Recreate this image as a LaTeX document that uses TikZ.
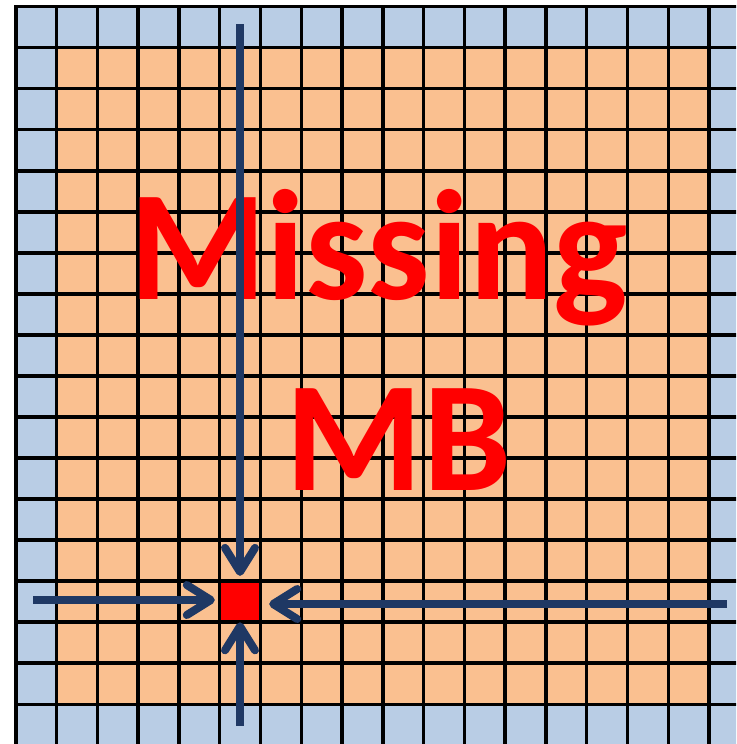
\documentclass[tikz,border=0pt]{standalone}
\usepackage{fontspec}
\setmainfont{Carlito}
\usetikzlibrary{arrows.meta}
\definecolor{cellblue}{HTML}{B9CDE5}
\definecolor{cellorange}{HTML}{FAC090}
\definecolor{arrownavy}{HTML}{1F3864}
\begin{document}
\begin{tikzpicture}[x=1pt,y=-1pt,
  gridline/.style={line width=3.4pt,black,line cap=rect},
  flow/.style={line width=8pt,arrownavy,-{Straight Barb[length=24pt,width=30pt,line cap=round,line join=round]}},
  bigtext/.style={text=red,font=\bfseries\fontsize{157}{190}\selectfont,inner sep=0pt,anchor=base}
]
\useasboundingbox (0,0) rectangle (736,744);
\begin{scope}
\clip (0,0) rectangle (736,744);
\fill[cellblue] (15.8,6.7) rectangle (749.8,745.2);
\fill[cellorange] (56.58,47.73) rectangle (709.06,704.21);
\node[fill=red, minimum width=40.78pt, minimum height=41.03pt, inner sep=0pt] (target) at (240.1,601.6) {};
\foreach \k in {0,...,18} {
  \draw[gridline] ({15.8+40.78*\k},6.7) -- ({15.8+40.78*\k},745.2);
  \draw[gridline] (15.8,{6.7+41.03*\k}) -- (749.8,{6.7+41.03*\k});
}
\end{scope}
\node[bigtext] (missing) at (378.4,299) {Missing};
\node[bigtext] (mb) at (398.4,490.7) {MB};
\coordinate (ls) at (33,600);
\coordinate (rs) at (727,604);
\coordinate (ts) at (240,24.3);
\coordinate (bs) at (240,725.7);
\draw[flow,line cap=butt,shorten >=4.7pt] (ls) -- (target.west |- ls);
\draw[flow,line cap=butt,shorten >=8.5pt] (rs) -- (target.east |- rs);
\draw[flow,line cap=butt,shorten >=5pt] (ts) -- (ts |- target.north);
\draw[flow,line cap=butt,shorten >=0pt] (bs) -- (bs |- target.south);
\end{tikzpicture}
\end{document}
